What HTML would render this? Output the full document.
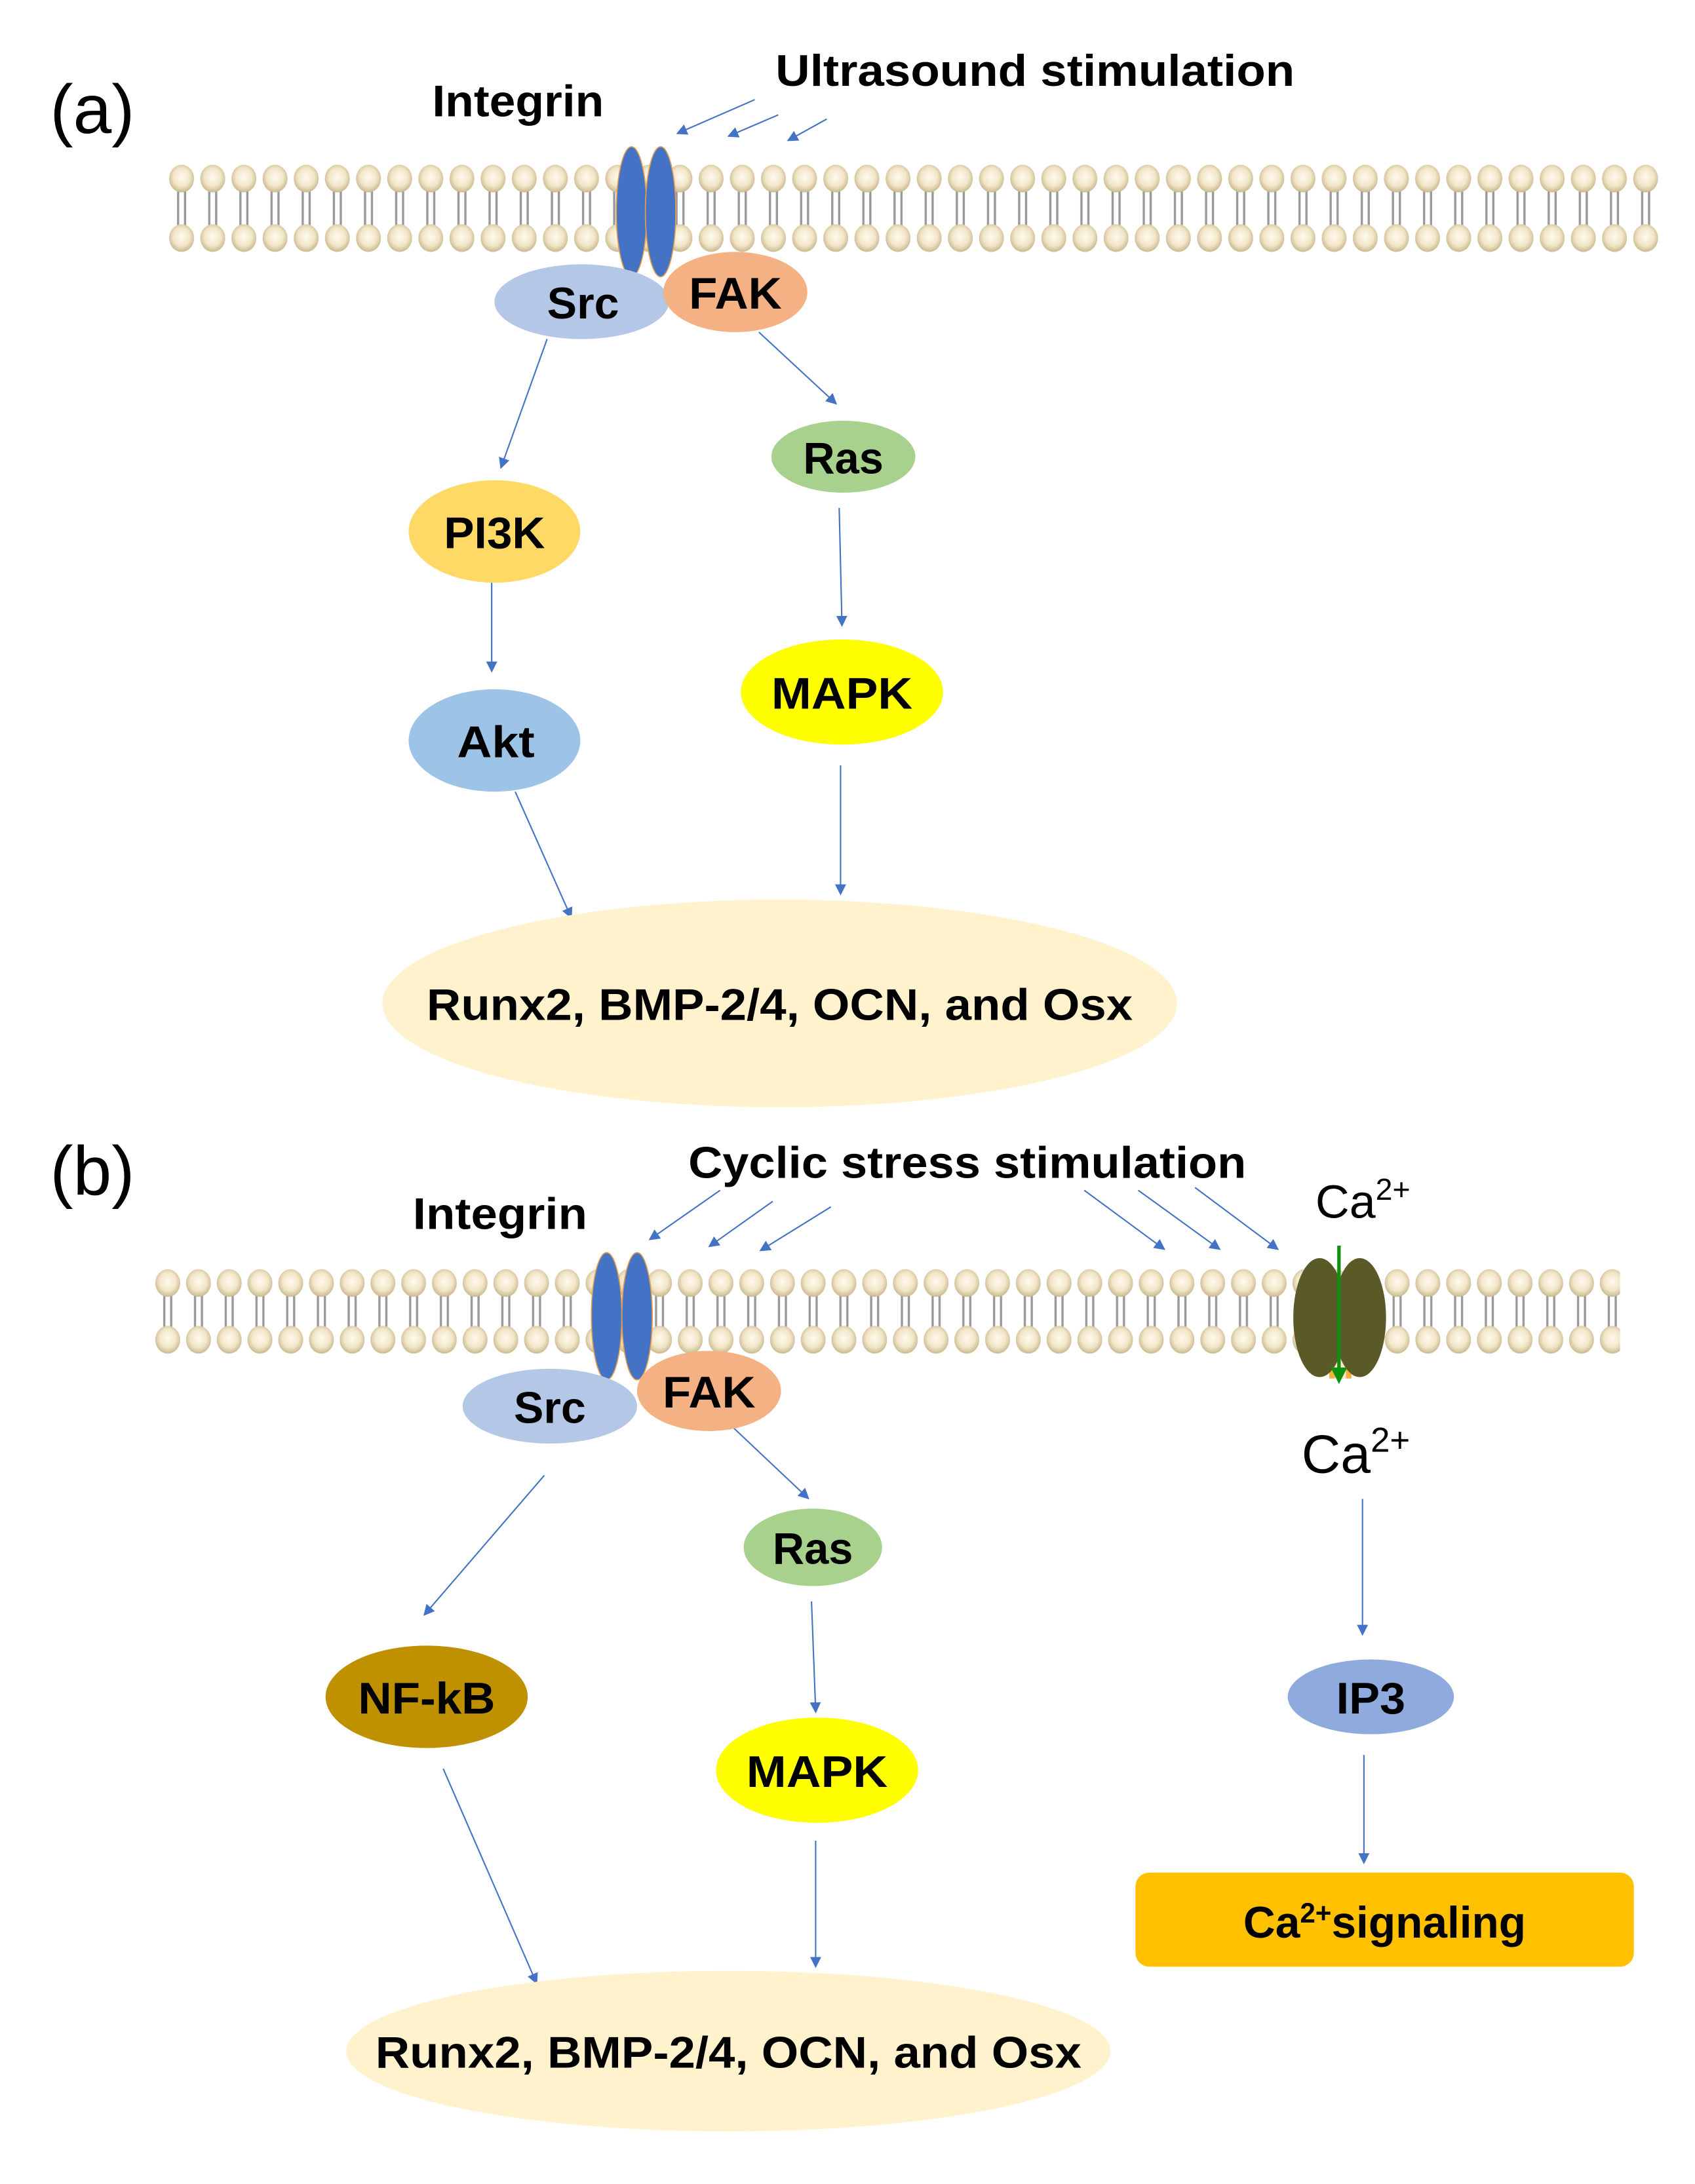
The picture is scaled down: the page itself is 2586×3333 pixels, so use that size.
<!DOCTYPE html>
<html><head><meta charset="utf-8"><style>html,body{margin:0;padding:0;background:#fff}svg{display:block}</style></head>
<body>
<svg width="2586" height="3333" viewBox="0 0 1224 1578" xmlns="http://www.w3.org/2000/svg" font-family="Liberation Sans, Arial, sans-serif">
<defs>
<radialGradient id="hg" cx="50%" cy="45%" r="55%"><stop offset="0" stop-color="#fffaf0"/><stop offset="0.6" stop-color="#f2e6c8"/><stop offset="1" stop-color="#c9b88f"/></radialGradient>
<pattern id="lipA" patternUnits="userSpaceOnUse" x="120" y="118" width="22.5" height="66">
<line x1="8.5" y1="12" x2="8.5" y2="54" stroke="#999" stroke-width="1.6"/>
<line x1="13.5" y1="12" x2="13.5" y2="54" stroke="#999" stroke-width="1.6"/>
<ellipse cx="11" cy="11" rx="9" ry="10" fill="url(#hg)"/>
<ellipse cx="11" cy="54" rx="9" ry="10" fill="url(#hg)"/>
</pattern>
<pattern id="lipB" patternUnits="userSpaceOnUse" x="110" y="916" width="22.2" height="64">
<line x1="8.5" y1="12" x2="8.5" y2="52" stroke="#999" stroke-width="1.6"/>
<line x1="13.5" y1="12" x2="13.5" y2="52" stroke="#999" stroke-width="1.6"/>
<ellipse cx="11" cy="11" rx="9" ry="10" fill="url(#hg)"/>
<ellipse cx="11" cy="52" rx="9" ry="10" fill="url(#hg)"/>
</pattern>
<marker id="ar" markerWidth="8" markerHeight="8" refX="6" refY="4" orient="auto" markerUnits="userSpaceOnUse"><path d="M0,0 L8,4 L0,8 z" fill="#4472c4"/></marker>
<marker id="ag" markerWidth="12" markerHeight="12" refX="8" refY="6" orient="auto" markerUnits="userSpaceOnUse"><path d="M0,0 L12,6 L0,12 z" fill="#109010"/></marker>
</defs>
<g stroke="#4472c4" stroke-width="1" fill="none" marker-end="url(#ar)">
<line x1="545" y1="72" x2="490" y2="96"/><line x1="562" y1="83" x2="527" y2="98"/><line x1="597" y1="86" x2="570" y2="101"/>
<line x1="395" y1="245" x2="362" y2="337"/><line x1="548" y1="240" x2="603" y2="291"/>
<line x1="355" y1="421" x2="355" y2="484"/><line x1="606" y1="367" x2="608" y2="451"/>
<line x1="372" y1="572" x2="412" y2="662"/><line x1="607" y1="553" x2="607" y2="645"/>
<line x1="520" y1="860" x2="470" y2="895"/><line x1="558" y1="868" x2="513" y2="900"/><line x1="600" y1="872" x2="550" y2="903"/>
<line x1="783" y1="860" x2="840" y2="902"/><line x1="822" y1="860" x2="880" y2="902"/><line x1="863" y1="858" x2="922" y2="902"/>
<line x1="393" y1="1066" x2="307" y2="1166"/><line x1="530" y1="1032" x2="583" y2="1082"/>
<line x1="586" y1="1157" x2="589" y2="1236"/><line x1="320" y1="1278" x2="387" y2="1432"/>
<line x1="589" y1="1330" x2="589" y2="1420"/><line x1="984" y1="1083" x2="984" y2="1180"/>
<line x1="985" y1="1268" x2="985" y2="1345"/>
</g>
<rect x="120" y="118" width="1080" height="66" fill="url(#lipA)"/>
<rect x="110" y="916" width="1060" height="64" fill="url(#lipB)"/>
<g fill="#4472c4" stroke="#e0a050" stroke-width="0.8">
<ellipse cx="456" cy="153" rx="11" ry="47"/><ellipse cx="477" cy="153" rx="11" ry="47"/>
<ellipse cx="438" cy="951" rx="11" ry="46"/><ellipse cx="460" cy="951" rx="11" ry="46"/>
</g>
<ellipse cx="420" cy="218" rx="63" ry="27" fill="#b4c7e7"/>
<ellipse cx="531" cy="211" rx="52" ry="29" fill="#f4b183"/>
<ellipse cx="609" cy="330" rx="52" ry="26" fill="#a9d18e"/>
<ellipse cx="357" cy="384" rx="62" ry="37" fill="#ffd966"/>
<ellipse cx="357" cy="535" rx="62" ry="37" fill="#9dc3e6"/>
<ellipse cx="608" cy="500" rx="73" ry="38" fill="#ffff00"/>
<ellipse cx="563" cy="725" rx="287" ry="75" fill="#fff2cc"/>
<ellipse cx="397" cy="1016" rx="63" ry="27" fill="#b4c7e7"/>
<ellipse cx="512" cy="1005" rx="52" ry="29" fill="#f4b183"/>
<ellipse cx="587" cy="1118" rx="50" ry="28" fill="#a9d18e"/>
<ellipse cx="590" cy="1279" rx="73" ry="38" fill="#ffff00"/>
<ellipse cx="308" cy="1226" rx="73" ry="37" fill="#bf9000"/>
<ellipse cx="526" cy="1482" rx="276" ry="58" fill="#fff2cc"/>
<ellipse cx="990" cy="1226" rx="60" ry="27" fill="#8faadc"/>
<rect x="820" y="1353" width="360" height="68" rx="10" fill="#ffc000"/>
<rect x="960" y="938" width="16" height="58" fill="#f5b040"/>
<rect x="964" y="938" width="8" height="58" fill="#fde3cc"/>
<ellipse cx="953" cy="952" rx="19" ry="43" fill="#5a5a28"/>
<ellipse cx="982" cy="952" rx="19" ry="43" fill="#5a5a28"/>
<line x1="967" y1="900" x2="967" y2="996" stroke="#109010" stroke-width="2.5" marker-end="url(#ag)"/>
<g font-weight="bold" fill="#000" font-size="32" text-anchor="middle">
<text x="421" y="230" textLength="52" lengthAdjust="spacingAndGlyphs">Src</text>
<text x="531" y="223" textLength="67" lengthAdjust="spacingAndGlyphs">FAK</text>
<text x="609" y="342" textLength="58" lengthAdjust="spacingAndGlyphs">Ras</text>
<text x="357" y="396" textLength="73" lengthAdjust="spacingAndGlyphs">PI3K</text>
<text x="358" y="547" textLength="56" lengthAdjust="spacingAndGlyphs">Akt</text>
<text x="608" y="512" textLength="102" lengthAdjust="spacingAndGlyphs">MAPK</text>
<text x="563" y="737" textLength="510" lengthAdjust="spacingAndGlyphs">Runx2, BMP-2/4, OCN, and Osx</text>
<text x="397" y="1028" textLength="52" lengthAdjust="spacingAndGlyphs">Src</text>
<text x="512" y="1017" textLength="67" lengthAdjust="spacingAndGlyphs">FAK</text>
<text x="587" y="1130" textLength="58" lengthAdjust="spacingAndGlyphs">Ras</text>
<text x="590" y="1291" textLength="102" lengthAdjust="spacingAndGlyphs">MAPK</text>
<text x="308" y="1238" textLength="99" lengthAdjust="spacingAndGlyphs">NF-kB</text>
<text x="526" y="1494" textLength="510" lengthAdjust="spacingAndGlyphs">Runx2, BMP-2/4, OCN, and Osx</text>
<text x="990" y="1238" textLength="50" lengthAdjust="spacingAndGlyphs">IP3</text>
<text x="1000" y="1400">Ca<tspan font-size="20" dy="-11">2+</tspan><tspan dy="11">signaling</tspan></text>
</g>
<g font-weight="bold" font-size="32">
<text x="560" y="62" textLength="375" lengthAdjust="spacingAndGlyphs">Ultrasound stimulation</text>
<text x="312" y="84" textLength="124" lengthAdjust="spacingAndGlyphs">Integrin</text>
<text x="497" y="851" textLength="403" lengthAdjust="spacingAndGlyphs">Cyclic stress stimulation</text>
<text x="298" y="888" textLength="126" lengthAdjust="spacingAndGlyphs">Integrin</text>
</g>
<text x="36" y="96" font-size="50">(a)</text>
<text x="36" y="863" font-size="50">(b)</text>
<text x="950" y="880" font-size="34">Ca<tspan font-size="22" dy="-13">2+</tspan></text>
<text x="940" y="1064" font-size="39">Ca<tspan font-size="25" dy="-15">2+</tspan></text>
</svg>
</body></html>
